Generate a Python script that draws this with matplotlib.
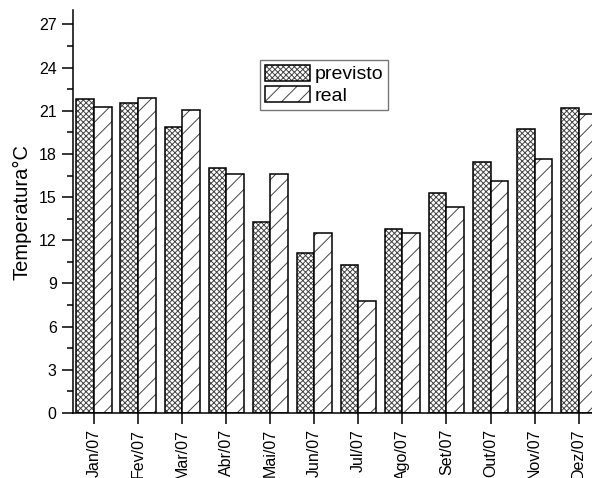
import matplotlib.pyplot as plt
from matplotlib.legend_handler import HandlerTuple
import numpy as np

plt.rcParams['font.family'] = ['Liberation Sans', 'DejaVu Sans']
plt.rcParams['hatch.linewidth'] = 0.7

meses = ['Jan/07', 'Fev/07', 'Mar/07', 'Abr/07', 'Mai/07', 'Jun/07',
         'Jul/07', 'Ago/07', 'Set/07', 'Out/07', 'Nov/07', 'Dez/07']
previsto = [21.83, 21.57, 19.90, 16.99, 13.26, 11.09, 10.25, 12.78, 15.28, 17.45, 19.72, 21.18]
real = [21.23, 21.92, 21.06, 16.64, 16.64, 12.48, 7.75, 12.52, 14.28, 16.13, 17.66, 20.76]

fig = plt.figure(figsize=(5.92, 4.78), dpi=100)
ax = fig.add_axes([72.7 / 592, 65 / 478, 527.3 / 592, 403 / 478])

x = np.arange(len(meses))
w = 0.4

# hatch in gray, outline in black drawn on top
h1 = ax.bar(x - w, previsto, w, align='edge', facecolor='white', edgecolor='#444444',
            linewidth=0, hatch='xxxxxx')
o1 = ax.bar(x - w, previsto, w, align='edge', fill=False, edgecolor='black', linewidth=1.1)
h2 = ax.bar(x, real, w, align='edge', facecolor='white', edgecolor='#444444',
            linewidth=0, hatch='//')
o2 = ax.bar(x, real, w, align='edge', fill=False, edgecolor='black', linewidth=1.1)

ax.set_xlim(-0.485, 11.485)
ax.set_ylim(0, 28)
ax.set_yticks(np.arange(0, 28, 3))
ax.set_yticks(np.arange(1.5, 28, 3), minor=True)
ax.set_xticks(x)
ax.set_xticklabels(meses, rotation=90, fontsize=11.5)
ax.tick_params(axis='y', labelsize=11.5)
ax.tick_params(which='major', direction='out', length=8, width=1.1)
ax.tick_params(which='minor', direction='out', length=4.5, width=1.1)
for s in ['top', 'right']:
    ax.spines[s].set_visible(False)
for s in ['left', 'bottom']:
    ax.spines[s].set_linewidth(1.1)

ax.set_ylabel('Temperatura°C', fontsize=14.5, labelpad=5)

leg = ax.legend([(h1[0], o1[0]), (h2[0], o2[0])], ['previsto', 'real'],
                handler_map={tuple: HandlerTuple(ndivide=1, pad=0)},
                loc='upper left', bbox_to_anchor=(260 / 592, 1 - 60 / 478),
                bbox_transform=fig.transFigure, borderaxespad=0, fancybox=False,
                fontsize=14, handlelength=2.3, handleheight=0.87,
                handletextpad=0.25, borderpad=0.25, labelspacing=0.15)
leg.get_frame().set_edgecolor('#555555')
leg.get_frame().set_linewidth(1.0)

fig.savefig('out.png', dpi=100)
